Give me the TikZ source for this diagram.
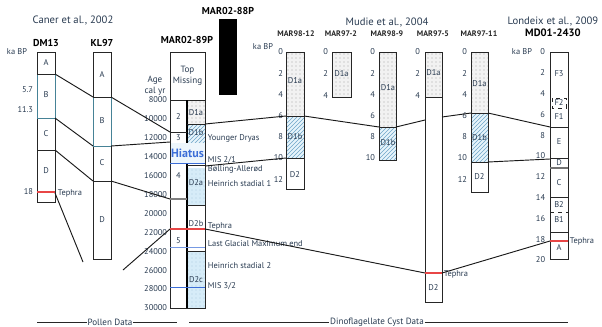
\documentclass[tikz,border=0pt]{standalone}
\usepackage{fontspec}
\setmainfont{PT Sans}
\usetikzlibrary{patterns}
\definecolor{txt}{RGB}{40,58,80}
\definecolor{lblue}{RGB}{214,236,248}
\definecolor{hblue}{RGB}{110,165,200}
\definecolor{tred}{RGB}{232,70,70}
\definecolor{mblue}{RGB}{60,110,215}
\definecolor{teal}{RGB}{70,130,150}
\begin{document}
\begin{tikzpicture}[x=0.75pt,y=-0.75pt,
  every node/.style={text=txt, inner sep=0.5pt, font=\fontsize{6.3}{7}\selectfont},
  colbox/.style={draw=black!85, line width=0.6pt},
  sep/.style={draw=black!85, line width=0.6pt},
  link/.style={draw=black!90, line width=0.7pt},
  stip/.style={preaction={fill=black!5}, pattern=dots, pattern color=black!35},
  bstip/.style={preaction={fill=lblue}, pattern=dots, pattern color=hblue!55},
  hatch/.style={preaction={fill=lblue!60}, pattern=north east lines, pattern color=hblue},
  ttl/.style={font=\fontsize{7.5}{9}\selectfont\bfseries, text=black},
  sttl/.style={font=\fontsize{6}{7}\selectfont\bfseries, text=black!85},
  refn/.style={font=\fontsize{8}{9}\selectfont, text=txt},
  num/.style={anchor=east},
  rlab/.style={anchor=west},
  redl/.style={draw=tred, line width=0.8pt},
  bluel/.style={draw=mblue, line width=0.6pt},
]
\useasboundingbox (0,0) rectangle (602,326);

% ---------- references ----------
\node[refn] (caner) at (73,20) {Caner et al., 2002};
\node[refn] (mudie) at (387,22) {Mudie et al., 2004};
\node[refn] (londeix) at (553,21) {Londeix et al., 2009};

% ---------- DM13 ----------
\node[ttl] (tdm) at (46,43) {DM13};
\node (kadm) at (17,52) {ka BP};
\draw[colbox] (37,52) rectangle (55,202);
\draw[teal, line width=0.6pt] (37,74) -- (37,118) (55,74) -- (55,118) (37,118) -- (55,118);
\draw[sep] (37,74) -- (55,74) (37,150) -- (55,150);
\draw[redl] (37,192) -- (55,192);
\node (dmA) at (46,63) {A};
\node (dmB) at (46,95) {B};
\node (dmC) at (46,134) {C};
\node (dmD) at (46,171) {D};
\node[num] (dm57) at (34,90) {5.7};
\node[num] (dm113) at (34,110) {11.3};
\node[num] (dm18) at (34,192) {18};
\node[rlab] (dmteph) at (57,193) {Tephra};
\coordinate (dmab) at (55,74);
\coordinate (dmbc) at (55,118);
\coordinate (dmcd) at (55,150);
\coordinate (dmt) at (55,193);
\coordinate (dmtend) at (83,262);

% ---------- KL97 ----------
\node[ttl] (tkl) at (102,43) {KL97};
\draw[colbox] (93,52) rectangle (111,259);
\draw[teal, line width=0.6pt] (93,97) -- (93,146) (111,97) -- (111,146) (93,146) -- (111,146);
\draw[sep] (93,97) -- (111,97) (93,181) -- (111,181);
\node (klA) at (102,75) {A};
\node (klB) at (102,121) {B};
\node (klC) at (102,163) {C};
\node (klD) at (102,220) {D};
\coordinate (klabL) at (93,97);
\coordinate (klbcL) at (93,146);
\coordinate (klcdL) at (93,181);
\coordinate (klabR) at (111,97);
\coordinate (klbcR) at (111,146);
\coordinate (klcdR) at (111,181);

% ---------- MAR02-88P ----------
\node[ttl] (t88) at (228,11) {MAR02-88P};
\fill[black] (219,19) rectangle (237,95);

% ---------- MAR02-89P ----------
\node[ttl] (t89) at (187,40) {MAR02-89P};
\draw[colbox] (170,52) rectangle (205,100);
\node[align=center, font=\fontsize{6.8}{8}\selectfont] (topm) at (187.5,76) {Top\\Missing};
\node[align=center, font=\fontsize{6.8}{8.5}\selectfont] (agelab) at (155,86) {Age\\cal yr};
\foreach \a [count=\i from 0] in {8000,10000,12000,14000,16000,18000,20000,22000,24000,26000,28000,30000}
  \node[num] (age\i) at (168,{100+\i*18.9}) {\a};
% fills
\fill[stip] (187,100) rectangle (205,124);
\fill[hatch] (187,124) rectangle (205,143);
\fill[lblue!45] (170,143) rectangle (205,163);
\fill[bstip] (187,168) rectangle (205,205);
\fill[bstip] (187,251) rectangle (205,308);
% outline and dividers
\draw[colbox] (170,100) rectangle (205,308);
\draw[black, line width=1.5pt] (187,100) -- (187,143) (187,164) -- (187,308);
\draw[sep] (170,132) -- (187,132);
\draw[sep] (187,124) -- (205,124);
\draw[sep] (187,165) -- (205,165);
\draw[sep] (187,205) -- (205,205);
\draw[sep] (187,251) -- (205,251);
\draw[draw=black!50, line width=0.8pt] (170,199) -- (187,199);
\draw[bluel] (170,163) -- (205,163);
\draw[redl] (170,229) -- (205,229);
\draw[draw=mblue!70, line width=0.5pt] (170,247) -- (205,247);
\draw[bluel] (170,287) -- (205,287);
\node (c2) at (178.5,117) {2};
\node (c3) at (178.5,138) {3};
\node (c4) at (178.5,176) {4};
\node (c5) at (178.5,241) {5};
\node (d1a) at (196,113) {D1a};
\node (d1b) at (196,133) {D1b};
\node (d2a) at (196,183) {D2a};
\node (d2b) at (196,224) {D2b};
\node (d2c) at (196,280) {D2c};
\node[text=mblue, font=\fontsize{9}{10}\selectfont\bfseries] (hiatus) at (187.5,153) {Hiatus};
\node[rlab] (yd) at (207,138) {Younger Dryas};
\node[rlab] (mis21) at (207,160) {MIS 2/1};
\node[rlab] (ba) at (207,169) {Bølling-Allerød};
\node[rlab] (hs1) at (207,184) {Heinrich stadial 1};
\node[rlab] (teph89) at (207,226) {Tephra};
\node[rlab] (lgm) at (207,244) {Last Glacial Maximum end};
\node[rlab] (hs2) at (207,266) {Heinrich stadial 2};
\node[rlab] (mis32) at (207,286) {MIS 3/2};
\coordinate (m89a) at (170,132);
\coordinate (m89b) at (170,142);
\coordinate (m89c) at (170,199);
\coordinate (m89t) at (170,229);
\coordinate (m89tstart) at (123,270);
\coordinate (m89d1) at (205,124);
\coordinate (m89d2) at (205,166);
\coordinate (m89tr) at (205,229);

% ---------- MAR98-12 ----------
\node[sttl] (t9812) at (296,34) {MAR98-12};
\node (ka12) at (263,47) {ka BP};
\fill[stip] (286,52) rectangle (304,116);
\fill[hatch] (286,116) rectangle (304,158);
\draw[colbox] (286,52) rectangle (304,189);
\draw[sep] (286,116) -- (304,116) (286,158) -- (304,158);
\foreach \k in {0,2,...,12} \node[num] (n12-\k) at (284,{52+\k*10.6}) {\k};
\node (l12a) at (295,81) {D1a};
\node (l12b) at (295,137) {D1b};
\node (l12c) at (295,175) {D2};
\coordinate (m12L6) at (286,116);
\coordinate (m12R6) at (304,116);
\coordinate (m12L10) at (286,158);

% ---------- MAR97-2 ----------
\node[sttl] (t972) at (341,34) {MAR97-2};
\fill[stip] (332,52) rectangle (351,97);
\draw[colbox] (332,52) rectangle (351,97);
\foreach \k in {0,2,4} \node[num] (n2-\k) at (329,{52+\k*10.9}) {\k};
\node (l2a) at (341.5,74) {D1a};

% ---------- MAR98-9 ----------
\node[sttl] (t989) at (387,34) {MAR98-9};
\fill[stip] (379,52) rectangle (396,127);
\fill[hatch] (379,127) rectangle (396,160);
\draw[colbox] (379,52) rectangle (396,160);
\draw[sep] (379,127) -- (396,127);
\foreach \k in {0,2,...,10} \node[num] (n9-\k) at (376,{52+\k*10.6}) {\k};
\node (l9a) at (388,88) {D1a};
\node (l9b) at (388,143) {D1b};
\coordinate (m9L) at (379,127);
\coordinate (m9R) at (396,127);

% ---------- MAR97-5 ----------
\node[sttl] (t975) at (433,34) {MAR97-5};
\fill[stip] (425,52) rectangle (442,97);
\draw[colbox] (425,52) rectangle (442,302);
\draw[sep] (425,97) -- (442,97);
\draw[redl] (425,273) -- (442,273);
\foreach \k in {0,2,4} \node[num] (n5-\k) at (421,{52+\k*10.9}) {\k};
\node (l5a) at (433.5,73) {D1a};
\node (l5b) at (433.5,288) {D2};
\node[rlab] (teph5) at (443,274) {Tephra};
\coordinate (m5L) at (425,120);
\coordinate (m5R) at (442,117);
\coordinate (m5tL) at (425,273);
\coordinate (m5tR) at (442,273);

% ---------- MAR97-11 ----------
\node[sttl] (t9711) at (479,34) {MAR97-11};
\fill[stip] (471,52) rectangle (488,113);
\fill[hatch] (471,113) rectangle (488,162);
\draw[colbox] (471,52) rectangle (488,192);
\draw[sep] (471,113) -- (488,113) (471,162) -- (488,162);
\foreach \k in {0,2,...,12} \node[num] (n11-\k) at (468,{52+\k*10.6}) {\k};
\node (l11a) at (479.5,84) {D1a};
\node (l11b) at (479.5,138) {D1b};
\node (l11c) at (479.5,177) {D2};
\coordinate (m11L) at (471,113);
\coordinate (m11R) at (488,113);
\coordinate (m11R10) at (488,162);

% ---------- MD01-2430 ----------
\node[ttl, font=\fontsize{8}{9}\selectfont\bfseries] (tmd) at (553,33) {MD01-2430};
\node (kamd) at (522,52) {ka BP};
\draw[colbox] (550,52) rectangle (568,259);
\draw[sep] (550,127) -- (568,127) (550,158) -- (568,158) (550,197) -- (568,197) (550,232) -- (568,232);
\draw[draw=black!55, line width=1pt] (550,168) -- (568,168);
\draw[black!85, dashed, line width=0.6pt] (550,212) -- (568,212);
\draw[black!85, dashed, line width=0.6pt] (552,98) rectangle (566,108);
\draw[redl] (550,241) -- (568,241);
\foreach \k in {0,2,...,20} \node[num] (nmd-\k) at (546,{52+\k*10.4}) {\k};
\node (mF3) at (559,74) {F3};
\node (mF2) at (559,103) {F2};
\node (mF1) at (559,117) {F1};
\node (mE) at (559,142) {E};
\node (mD) at (559,163) {D};
\node (mC) at (559,183) {C};
\node (mB2) at (559,205) {B2};
\node (mB1) at (559,220) {B1};
\node (mA) at (559,248) {A};
\node[rlab] (tephmd) at (569,241) {Tephra};
\coordinate (md6) at (550,127);
\coordinate (md10) at (550,159);
\coordinate (md18) at (550,241);

% ---------- connectors ----------
\draw[link] (dmab) -- (klabL);
\draw[link] (dmbc) -- (klbcL);
\draw[link] (dmcd) -- (klcdL);
\draw[link] (dmt) -- (dmtend);
\draw[link] (m89tstart) -- (m89t);
\draw[link] (klabR) -- (m89a);
\draw[link] (klbcR) -- (m89b);
\draw[link] (klcdR) -- (m89c);
\draw[link] (m89d1) -- (m12L6);
\draw[link] (m12R6) -- (m9L);
\draw[link] (m9R) -- (m5L);
\draw[link] (m5R) -- (m11L);
\draw[link] (m11R) -- (md6);
\draw[link] (m89d2) -- (m12L10);
\draw[link] (m11R10) -- (md10);
\draw[link] (m89tr) -- (m5tL);
\draw[link] (m5tR) -- (md18);

% ---------- bottom captions ----------
\node[font=\fontsize{6.8}{8}\selectfont] (pollen) at (110,322) {Pollen Data};
\draw[black!85, line width=0.6pt] (37,322) -- (pollen.west) (pollen.east) -- (177,322);
\node[font=\fontsize{6.8}{8}\selectfont] (dino) at (377,322) {Dinoflagellate Cyst Data};
\draw[black!85, line width=0.6pt] (189,322) -- (dino.west) (dino.east) -- (568,322);
\end{tikzpicture}
\end{document}
